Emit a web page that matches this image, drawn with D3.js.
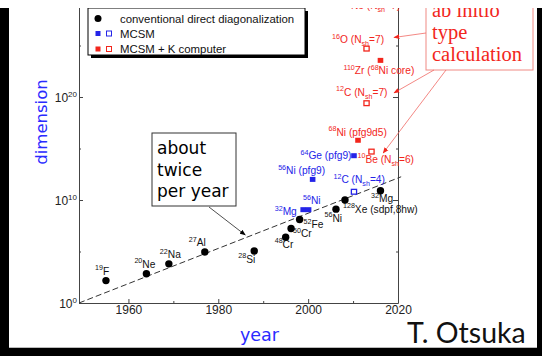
<html>
<head>
<script src="https://cdn.jsdelivr.net/npm/d3@7/dist/d3.min.js"></script>
<style>
  body { margin: 0; background: #fff; }
  svg { display: block; }
  text { white-space: pre; }
</style>
</head>
<body>
<svg id="chart" width="542" height="356"></svg>
<script>
// conventional direct diagonalization (black dots)
let directNames = ["^{19}F", "^{20}Ne", "^{22}Na", "^{27}Al", "^{28}Si", "^{48}Cr", "^{50}Cr", "^{52}Fe", "^{56}Ni", "^{128}Xe (sdpf,8hw)", "^{32}Mg"];
let directYears = [1955.0, 1964.0, 1969.0, 1977.0, 1988.0, 1995.0, 1996.2, 1998.1, 2006.2, 2008.2, 2016.1];
let directDims  = [1.5e2, 7e2, 6.3e3, 9e4, 1.1e5, 2.4e6, 1.7e7, 1.3e8, 1.3e9, 1e10, 8e10];

// MCSM (blue)
let mcsmNames  = ["^{32}Mg", "^{56}Ni", "^{56}Ni (pfg9)", "^{64}Ge (pfg9)", "^{12}C (N_{sh}=4)"];
let mcsmYears  = [1998.9, 2000.1, 2001.0, 2010.2, 2010.2];
let mcsmDims   = [1.15e9, 1.15e9, 1e12, 2e14, 6.3e10];
let mcsmFilled = [true, true, true, true, false];

// MCSM + K computer (red)
let kNames  = ["^{68}Ni (pfg9d5)", "^{10}Be (N_{sh}=6)", "^{12}C (N_{sh}=7)", "^{110}Zr (^{68}Ni core)", "^{16}O (N_{sh}=7)"];
let kYears  = [2011.1, 2014.1, 2013.0, 2016.1, 2013.0];
let kDims   = [6.3e15, 5e14, 2.5e19, 3.6e23, 5e24];
let kFilled = [true, false, false, true, false];

// label offsets from the marker (px)
let directOffsets = [[-11,-6],[-12,-6],[-9,-6],[-16,-5.5],[-16,11.5],[-11,10.5],[2,8.5],[4,9],[-11.5,12.5],[-2,12.5],[-9.5,11.5]];
let mcsmOffsets   = [[-28.5,5.5],[-5.5,-5.5],[-34.5,-5.5],[-53.5,3.5],[-20.5,-8.5]];
let kOffsets      = [[-29.5,-4.5],[-14,11],[-30.5,-7.5],[-37,13.5],[-34.5,-5.5]];

// trend line "about twice per year"
let trendYears = [1949, 2020.7];
let trendDims  = [1e0, 1.8e12];

// arrow tips for the red "ab initio" note
let noteTipYears = [2019.1, 2019.1, 2016.7];
let noteTipDims  = [6e25, 2.5e20, 3.6e14];

let xMajor = [1960, 1980, 2000, 2020];
let xMinor = [1970, 1990, 2010];
let yMajor = [1e0, 1e10, 1e20];
let yMinor = [1e5, 1e15, 1e25];
let yMajorExp = ["0", "10", "20"];

let legendLabels = ["conventional direct diagonalization", "MCSM", "MCSM + K computer"];

const black = "#111", blue = "#2424e8", red = "#f2261c";
const svg = d3.select("#chart");

const x = d3.scaleLinear().domain([1949, 2020]).range([79, 398]);
const y = d3.scaleLog().domain([1, 1e30]).range([303, -6]);

function richText(t, str, size) {
  let parts = str.split(/(\^\{[^}]*\}|_\{[^}]*\})/).filter(s => s.length);
  let shift = 0;
  parts.forEach(p => {
    let target = 0, fs = size, txt = p;
    if (p[0] === "^") { target = -size * 0.42; fs = size * 0.7; txt = p.slice(2, -1); }
    else if (p[0] === "_") { target = size * 0.3; fs = size * 0.7; txt = p.slice(2, -1); }
    t.append("tspan").attr("dy", target - shift).attr("font-size", fs).text(txt);
    shift = target;
  });
}

svg.append("defs").selectAll("marker").data([["ab", "#000"], ["ar", red]]).enter()
  .append("marker").attr("id", d => d[0]).attr("viewBox", "0 0 10 10")
  .attr("refX", 9).attr("refY", 5).attr("markerWidth", 6).attr("markerHeight", 6)
  .attr("orient", "auto").attr("markerUnits", "userSpaceOnUse")
  .append("path").attr("d", "M0,1L10,5L0,9z").attr("fill", d => d[1]);

// axes
const axisCol = "#444";
function styleAxis(g) {
  g.selectAll("path,line").attr("stroke", axisCol);
  g.selectAll("text").remove();
}
svg.append("g").attr("transform", "translate(0,303)")
  .call(d3.axisBottom(x).tickValues(xMajor).tickFormat(d3.format("d")).tickSizeInner(-4).tickSizeOuter(0))
  .call(g => g.selectAll("path,line").attr("stroke", axisCol))
  .call(g => g.selectAll("text").attr("font-family", "Liberation Sans, Arial").attr("font-size", 12)
    .attr("fill", "#222").attr("y", 2.5));
svg.append("g").attr("transform", "translate(0,303)")
  .call(d3.axisBottom(x).tickValues(xMinor).tickSizeInner(-2).tickSizeOuter(0)).call(styleAxis)
  .select("path").remove();
svg.append("g").attr("transform", "translate(79,0)")
  .call(d3.axisLeft(y).tickValues(yMajor).tickSizeInner(-4).tickSizeOuter(0)).call(styleAxis);
svg.append("g").attr("transform", "translate(79,0)")
  .call(d3.axisLeft(y).tickValues(yMinor).tickSizeInner(-2).tickSizeOuter(0)).call(styleAxis)
  .select("path").remove();
svg.append("g").attr("transform", "translate(398,0)")
  .call(d3.axisRight(y).tickValues(yMajor).tickSizeInner(-5).tickSizeOuter(0)).call(styleAxis);
svg.append("g").attr("transform", "translate(398,0)")
  .call(d3.axisRight(y).tickValues(yMinor).tickSizeInner(-2).tickSizeOuter(0)).call(styleAxis)
  .select("path").remove();

yMajor.forEach((v, i) => {
  let t = svg.append("text").attr("x", 77).attr("y", y(v) + 4.5).attr("text-anchor", "end")
    .attr("font-family", "Liberation Sans, Arial").attr("fill", "#222");
  t.append("tspan").attr("font-size", 12).text("10");
  t.append("tspan").attr("font-size", 8).attr("dy", -5).text(yMajorExp[i]);
});

// trend line
svg.append("path")
  .attr("d", d3.line().x(d => x(d[0])).y(d => y(d[1]))(trendYears.map((v, i) => [v, trendDims[i]])))
  .attr("stroke", "#333").attr("stroke-width", 1).attr("stroke-dasharray", "6,3").attr("fill", "none");

// black dots
directYears.forEach((yr, i) => {
  let cx = x(yr), cy = y(directDims[i]);
  svg.append("circle").attr("cx", cx).attr("cy", cy).attr("r", 3.7).attr("fill", "#000");
  let t = svg.append("text").attr("x", cx + directOffsets[i][0]).attr("y", cy + directOffsets[i][1])
    .attr("font-family", "Liberation Sans, Arial").attr("fill", black);
  richText(t, directNames[i], 10.2);
});

function squares(years, dims, filled, names, offsets, col) {
  years.forEach((yr, i) => {
    let cx = x(yr), cy = y(dims[i]);
    if (filled[i]) {
      svg.append("rect").attr("x", cx - 2.8).attr("y", cy - 2.5).attr("width", 5.6).attr("height", 5)
        .attr("fill", col);
    } else {
      svg.append("rect").attr("x", cx - 2.6).attr("y", cy - 2.4).attr("width", 5.2).attr("height", 4.8)
        .attr("fill", "#fff").attr("stroke", col).attr("stroke-width", 1.3);
    }
    let t = svg.append("text").attr("x", cx + offsets[i][0]).attr("y", cy + offsets[i][1])
      .attr("font-family", "Liberation Sans, Arial").attr("fill", col);
    richText(t, names[i], 10.2);
  });
}
squares(mcsmYears, mcsmDims, mcsmFilled, mcsmNames, mcsmOffsets, blue);
squares(kYears, kDims, kFilled, kNames, kOffsets, red);

// label partly hidden at the top (as in the slide crop)
let topT = svg.append("text").attr("x", 343).attr("y", 8.5)
  .attr("font-family", "Liberation Sans, Arial").attr("fill", red);
richText(topT, "^{20}Ne (N_{sh}=7)", 10.2);

// legend
svg.append("rect").attr("x", 91).attr("y", 11).attr("width", 217).attr("height", 47).attr("fill", "#000");
svg.append("rect").attr("x", 88).attr("y", 8).attr("width", 217).attr("height", 47)
  .attr("fill", "#fff").attr("stroke", "#000").attr("stroke-width", 1);
let legY = [18.5, 33.5, 49];
legendLabels.forEach((lab, i) => {
  svg.append("text").attr("x", 120).attr("y", legY[i] + 4).attr("font-family", "Liberation Sans, Arial")
    .attr("font-size", 11.4).attr("fill", "#111").text(lab);
});
svg.append("circle").attr("cx", 98).attr("cy", legY[0]).attr("r", 3.5).attr("fill", "#000");
[[blue, 1], [red, 2]].forEach(([c, i]) => {
  svg.append("rect").attr("x", 95.5).attr("y", legY[i] - 2.5).attr("width", 5).attr("height", 5).attr("fill", c);
  svg.append("rect").attr("x", 106.5).attr("y", legY[i] - 2.5).attr("width", 5).attr("height", 5)
    .attr("fill", "#fff").attr("stroke", c).attr("stroke-width", 1);
});

// "about twice per year" note
svg.append("rect").attr("x", 152).attr("y", 133).attr("width", 84).attr("height", 73)
  .attr("fill", "#fff").attr("stroke", "#333").attr("stroke-width", 1);
["about", "twice", "per year"].forEach((s, i) => {
  svg.append("text").attr("x", 157).attr("y", 154 + i * 21.5)
    .attr("font-family", "Comic Sans MS, DejaVu Sans").attr("font-size", 17).attr("fill", "#000").text(s);
});
svg.append("line").attr("x1", 209).attr("y1", 207).attr("x2", x(1986)).attr("y2", y(4e6))
  .attr("stroke", "#222").attr("stroke-width", 0.8).attr("marker-end", "url(#ab)");

// "ab initio type calculation" note
svg.append("rect").attr("x", 426).attr("y", -10).attr("width", 107).attr("height", 80)
  .attr("fill", "#fff").attr("stroke", "#f08a84").attr("stroke-width", 1);
["ab initio", "type", "calculation"].forEach((s, i) => {
  svg.append("text").attr("x", 432).attr("y", 16.5 + i * 22.3)
    .attr("font-family", "Liberation Serif, DejaVu Serif").attr("font-size", 20.5).attr("fill", red).text(s);
});
let noteFrom = [[426, 33], [434, 70], [446, 70]];
noteFrom.forEach((p, i) => {
  svg.append("line").attr("x1", p[0]).attr("y1", p[1])
    .attr("x2", x(noteTipYears[i])).attr("y2", y(noteTipDims[i]))
    .attr("stroke", "#f06a64").attr("stroke-width", 0.8).attr("marker-end", "url(#ar)");
});

// axis titles
svg.append("text").attr("transform", "translate(47,122) rotate(-90)").attr("text-anchor", "middle")
  .attr("font-family", "DejaVu Sans, Verdana").attr("font-size", 16.5).attr("fill", "#2a2aff").text("dimension");
svg.append("text").attr("x", 240).attr("y", 341)
  .attr("font-family", "DejaVu Sans, Verdana").attr("font-size", 17.5).attr("fill", "#2a2aff").text("year");
svg.append("text").attr("x", 407).attr("y", 343)
  .attr("font-family", "Lato, Open Sans").attr("font-size", 28.5).attr("fill", "#111").text("T. Otsuka");

// slide frame
svg.append("line").attr("x1", 9).attr("x2", 537).attr("y1", 347.5).attr("y2", 347.5).attr("stroke", "#bbb");
svg.append("rect").attr("x", 0).attr("y", 8).attr("width", 9).attr("height", 348).attr("fill", "#000");
svg.append("rect").attr("x", 537).attr("y", 8).attr("width", 5).attr("height", 348).attr("fill", "#000");
svg.append("rect").attr("x", 0).attr("y", 348).attr("width", 542).attr("height", 8).attr("fill", "#000");
// white strip across the top where the slide was cropped
svg.append("rect").attr("x", 0).attr("y", 0).attr("width", 542).attr("height", 8).attr("fill", "#fff");
</script>
</body>
</html>
